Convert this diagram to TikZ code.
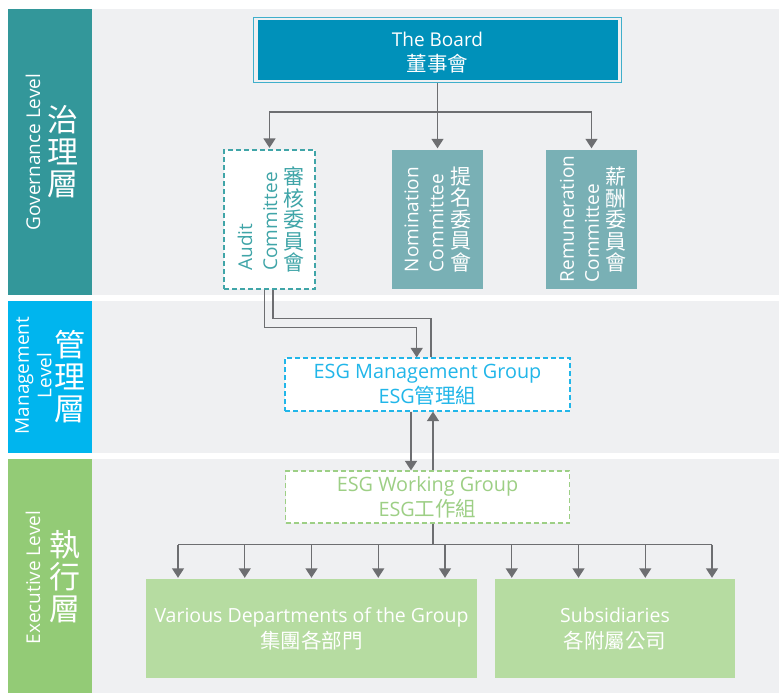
\documentclass[tikz,border=0pt]{standalone}
\usepackage{fontspec}
\setmainfont{Open Sans}
\newfontfamily\cjk{Noto Sans CJK TC}
\usetikzlibrary{arrows.meta,fit}
\definecolor{bggrey}{HTML}{EFF0F2}
\definecolor{govcol}{HTML}{33979A}
\definecolor{mgmtcol}{HTML}{00B5EE}
\definecolor{execcol}{HTML}{93CB76}
\definecolor{boardfill}{HTML}{0091BA}
\definecolor{boardedge}{HTML}{3FAFCB}
\definecolor{audittext}{HTML}{40A5A8}
\definecolor{nomfill}{HTML}{79B0B5}
\definecolor{mgmttext}{HTML}{21B6E9}
\definecolor{worktext}{HTML}{9DCF85}
\definecolor{boxgreen}{HTML}{B6DCA1}
\definecolor{arrowgrey}{HTML}{6D6E71}
\newcommand\latf{\fontsize{19}{25}\selectfont}
\newcommand\latg{\fontsize{19.8}{25}\selectfont}
\newcommand\lath{\fontsize{19.5}{25}\selectfont}
\newcommand\cjkm{\cjk\fontsize{20.5}{25}\selectfont}
\begin{document}
\begin{tikzpicture}[x=1pt,y=-1pt,
  conn/.style={draw=arrowgrey, line width=1.4pt},
  arr/.style={conn, -{Triangle[width=12pt,length=9.5pt]}},
  band/.style={minimum width=84pt, inner sep=0pt, outer sep=0pt},
  sidecjk/.style={text=white, align=center, inner sep=0pt, font=\cjk\fontsize{31}{32}\selectfont},
  sidelat/.style={text=white, rotate=90, align=center, inner sep=0pt, font=\latf},
  dashbox/.style={fill=white, line width=1.2pt, dash pattern=on 5pt off 3pt, inner sep=0pt, align=center, font=\latg},
  solidbox/.style={inner sep=0pt, align=center, text=white, font=\latf},
  comlat/.style={rotate=90, align=left, inner sep=0pt, font=\latf},
  comcjk/.style={align=center, inner sep=0pt, font=\cjk\fontsize{21}{21.5}\selectfont},
]
\useasboundingbox (0,0) rectangle (779,693);
\fill[white] (0,0) rectangle (779,693);
% background bands
\fill[bggrey] (92,9) rectangle (779,295);
\fill[bggrey] (92,301) rectangle (779,452.5);
\fill[bggrey] (92,459) rectangle (779,693);
% level columns
\node[band, fill=govcol, minimum height=286pt] (govband) at (50,152) {};
\node[band, fill=mgmtcol, minimum height=151.5pt] (mgmtband) at (50,376.75) {};
\node[band, fill=execcol, minimum height=234pt] (execband) at (50,576) {};
\node[sidelat] (govlat) at (33,152) {Governance Level};
\node[sidecjk] (govcjk) at (63,152) {治\\理\\層};
\node[sidelat, font=\fontsize{19}{22.5}\selectfont] (mgmtlat) at (33.5,375.5) {Management\\Level};
\node[sidecjk] (mgmtcjk) at (70,376.5) {管\\理\\層};
\node[sidelat] (execlat) at (33,577.5) {Executive Level};
\node[sidecjk] (execcjk) at (65,577) {執\\行\\層};
% board
\node[solidbox, fill=boardfill, minimum width=360pt, minimum height=60pt] (board) at (437.5,50) {};
\node[solidbox, yshift=-2.5pt] (boardtxt) at (board.center) {The Board\\{\cjkm 董事會}};
\node[draw=boardedge, line width=1.2pt, inner xsep=4pt, inner ysep=2.5pt, fit=(board)] (boardframe) {};
% committees
\node[dashbox, draw=audittext, minimum width=91pt, minimum height=139pt] (audit) at (269.5,219.5) {};
\node[comlat, text=audittext] (auditlat) at (257.5,221.5) {Audit\\Committee};
\node[comcjk, text=audittext] (auditcjk) at (293.5,219.5) {審\\核\\委\\員\\會};
\node[solidbox, fill=nomfill, minimum width=91pt, minimum height=139pt] (nom) at (437.5,219.5) {};
\node[comlat, text=white] (nomlat) at (424,219.5) {Nomination\\Committee};
\node[comcjk, text=white] (nomcjk) at (461,219.5) {提\\名\\委\\員\\會};
\node[solidbox, fill=nomfill, minimum width=91pt, minimum height=139pt] (rem) at (591.5,219.5) {};
\node[comlat, text=white] (remlat) at (579.5,219) {Remuneration\\Committee};
\node[comcjk, text=white] (remcjk) at (616,219.5) {薪\\酬\\委\\員\\會};
% management & working groups
\node[dashbox, draw=mgmttext, text=mgmttext, minimum width=285pt, minimum height=53pt] (mgmt) at (427.5,384.5)
  {ESG Management Group\\ESG{\cjkm 管理組}};
\node[dashbox, draw=worktext, text=worktext, minimum width=284pt, minimum height=52pt] (work) at (427.5,497)
  {ESG Working Group\\ESG{\cjkm 工作組}};
% bottom boxes
\node[solidbox, font=\lath, fill=boxgreen, minimum width=331pt, minimum height=99pt] (dept) at (311.5,628.5)
  {Various Departments of the Group\\[1pt]{\cjkm 集團各部門}};
\node[solidbox, font=\lath, fill=boxgreen, minimum width=240pt, minimum height=99pt] (subs) at (615,628.5)
  {Subsidiaries\\[1pt]{\cjkm 各附屬公司}};
% connectors: board to committees
\coordinate (bus) at (437.5,112);
\draw[conn] (boardframe.south) -- (bus);
\draw[arr, shorten >=1.5pt] (bus) -| (audit.north);
\draw[arr, shorten >=1.5pt] (bus) -| (rem.north);
\draw[arr, shorten >=1.5pt] (bus) -- (nom.north);
% audit <-> management
\draw[arr] ([xshift=-5pt]audit.south) -- ++(0,37.7) -| ([xshift=-10.8pt]mgmt.north);
\draw[conn] ([xshift=3.5pt]mgmt.north) -- ++(0,-38.7) -| ([xshift=3.5pt]audit.south);
% management <-> working
\draw[arr] ([xshift=-16.5pt]mgmt.south) -- ([xshift=-16.5pt]work.north);
\draw[arr] ([xshift=5.5pt]work.north) -- ([xshift=5.5pt]mgmt.south);
% working to executive units
\coordinate (wbus) at (433,544.5);
\draw[conn] ([xshift=5.5pt]work.south) -- (wbus);
\coordinate (wl) at (178,544.5);
\coordinate (wr) at (712,544.5);
\draw[conn] (wl) -- (wr);
\foreach \k in {0,...,4}{
  \coordinate (d\k) at ({178+\k*66.75},544.5);
  \draw[arr, shorten >=1pt] (d\k) -- (d\k |- dept.north);
}
\foreach \k in {5,...,8}{
  \coordinate (s\k) at ({178+\k*66.75},544.5);
  \draw[arr, shorten >=1pt] (s\k) -- (s\k |- subs.north);
}
\end{tikzpicture}
\end{document}
